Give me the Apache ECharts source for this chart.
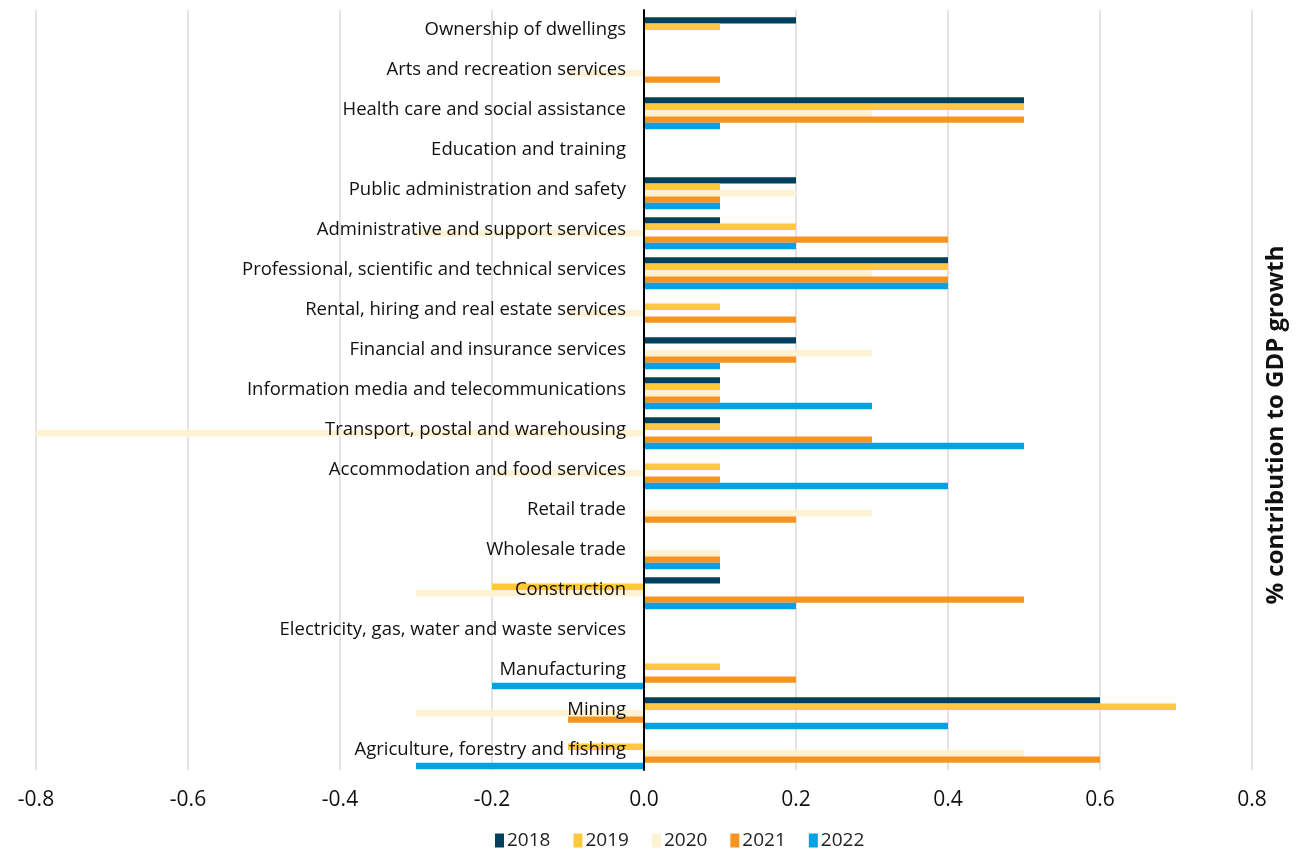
<!DOCTYPE html>
<html>
<head>
<meta charset="utf-8">
<script src="https://cdn.jsdelivr.net/npm/echarts@6/dist/echarts.min.js"></script>
<style>
  html,body{margin:0;padding:0;background:#fff;}
  #chart{width:1296px;height:855px;}
</style>
</head>
<body>
<div id="chart"></div>
<script>
// categories listed top to bottom (axis is inverted)
var industries = [
  "Ownership of dwellings",
  "Arts and recreation services",
  "Health care and social assistance",
  "Education and training",
  "Public administration and safety",
  "Administrative and support services",
  "Professional, scientific and technical services",
  "Rental, hiring and real estate services",
  "Financial and insurance services",
  "Information media and telecommunications",
  "Transport, postal and warehousing",
  "Accommodation and food services",
  "Retail trade",
  "Wholesale trade",
  "Construction",
  "Electricity, gas, water and waste services",
  "Manufacturing",
  "Mining",
  "Agriculture, forestry and fishing"
];
var years = ["2018","2019","2020","2021","2022"];
var colors = ["#00405f","#ffc83d","#fdf3d2","#f7941d","#00a3e0"];

var v2018 = [0.2, 0, 0.5, 0, 0.2, 0.1, 0.4, 0, 0.2, 0.1, 0.1, 0, 0, 0, 0.1, 0, 0, 0.6, 0];
var v2019 = [0.1, 0, 0.5, 0, 0.1, 0.2, 0.4, 0.1, 0, 0.1, 0.1, 0.1, 0, 0, -0.2, 0, 0.1, 0.7, -0.1];
var v2020 = [0, -0.1, 0.3, 0, 0.2, -0.3, 0.3, -0.1, 0.3, 0.1, -0.8, -0.2, 0.3, 0.1, -0.3, 0, 0, -0.3, 0.5];
var v2021 = [0, 0.1, 0.5, 0, 0.1, 0.4, 0.4, 0.2, 0.2, 0.1, 0.3, 0.1, 0.2, 0.1, 0.5, 0, 0.2, -0.1, 0.6];
var v2022 = [0, 0, 0.1, 0, 0.1, 0.2, 0.4, 0, 0.1, 0.3, 0.5, 0.4, 0, 0.1, 0.2, 0, -0.2, 0.4, -0.3];
var allValues = [v2018, v2019, v2020, v2021, v2022];

var xTicks = [-0.8, 0.8, 0.2]; // min, max, step
var axisTitle = "% contribution to GDP growth";

var font = "'Open Sans', 'Noto Sans', sans-serif";
var chart = echarts.init(document.getElementById("chart"));

var gridLeft = 36, gridRight = 44;
var plotW = 1296 - gridLeft - gridRight;
// shift the category axis (line + labels) over to value 0
var zeroOffset = -plotW * (0 - xTicks[0]) / (xTicks[1] - xTicks[0]);
var barW = 6.4;

// empty first slot: the original groups sit low in each band
var series = [{
  name: "_pad",
  type: "bar",
  data: [],
  barWidth: barW,
  barGap: "0%",
  silent: true
}];
years.forEach(function(y, i){
  series.push({
    name: y,
    type: "bar",
    data: allValues[i],
    itemStyle: {color: colors[i]},
    barWidth: barW,
    barGap: "0%",
    emphasis: {disabled: true}
  });
});

chart.setOption({
  animation: false,
  textStyle: {fontFamily: font},
  grid: {left: gridLeft, right: gridRight, top: 10, bottom: 85, containLabel: false, outerBoundsMode: "none"},
  legend: {
    data: years,
    bottom: 0,
    left: 490,
    itemWidth: 9,
    itemHeight: 14,
    itemGap: 23,
    icon: "rect",
    textStyle: {fontFamily: font, fontSize: 19, color: "#222", padding: [0, 0, 0, -2]}
  },
  graphic: [{
    type: "text",
    x: 1276,
    y: 425,
    rotation: Math.PI / 2,
    style: {
      text: axisTitle,
      fontFamily: font,
      fontSize: 24,
      fontWeight: "bold",
      fill: "#111",
      align: "center",
      verticalAlign: "middle"
    }
  }],
  xAxis: {
    type: "value",
    min: xTicks[0],
    max: xTicks[1],
    interval: xTicks[2],
    axisLine: {show: false},
    axisTick: {show: false},
    splitLine: {show: true, lineStyle: {color: "#e4e4e4", width: 2}},
    axisLabel: {
      fontSize: 21,
      color: "#111",
      margin: 20,
      formatter: function(v){ return v.toFixed(1); }
    }
  },
  yAxis: {
    type: "category",
    data: industries,
    inverse: true,
    z: 10,
    offset: zeroOffset,
    axisLine: {onZero: false, lineStyle: {color: "#000", width: 2}},
    axisTick: {show: false},
    axisLabel: {fontSize: 18.5, color: "#111", margin: 18, padding: [4, 0, 0, 0]}
  },
  series: series
});
</script>
</body>
</html>
